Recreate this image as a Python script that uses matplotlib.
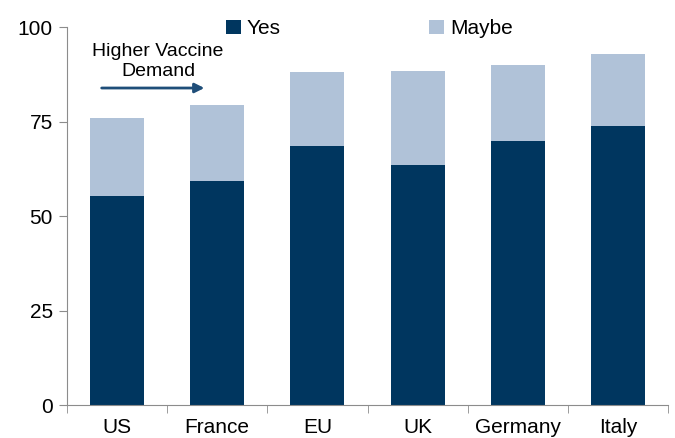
import matplotlib.pyplot as plt

plt.rcParams['font.family'] = ['Liberation Sans', 'DejaVu Sans']

paises = ['US', 'France', 'EU', 'UK', 'Germany', 'Italy']
sim = [55.4, 59.4, 68.6, 63.5, 69.8, 73.8]
total = [75.9, 79.3, 88.1, 88.4, 90.0, 92.9]
talvez = [t - s for t, s in zip(total, sim)]

cor_sim = '#00365F'
cor_talvez = '#B0C2D8'
cinza = '#8C8C8C'

fig, ax = plt.subplots(figsize=(6.75, 4.38), dpi=100)
fig.subplots_adjust(left=0.099, right=0.99, top=0.938, bottom=0.075)

x = list(range(len(paises)))
ax.bar(x, sim, width=0.54, color=cor_sim, label='Yes')
ax.bar(x, talvez, width=0.54, bottom=sim, color=cor_talvez, label='Maybe')

ax.set_xlim(-0.5, 5.5)
ax.set_ylim(0, 100)
ax.set_yticks([0, 25, 50, 75, 100])
ax.set_xticks(x)
ax.set_xticklabels(paises)
ax.set_xticks([i + 0.5 for i in range(-1, 6)], minor=True)
ax.tick_params(axis='x', which='major', length=0, pad=9, labelsize=15)
ax.tick_params(axis='x', which='minor', length=6, color=cinza, direction='out')
ax.tick_params(axis='y', length=6, color=cinza, labelsize=15, pad=4)

for lado in ['top', 'right']:
    ax.spines[lado].set_visible(False)
ax.spines['left'].set_color(cinza)
ax.spines['bottom'].set_color(cinza)

ax.legend(loc='upper center', bbox_to_anchor=(0.503, 1.07), ncol=2, frameon=False,
          fontsize=15, handlelength=0.7, handleheight=0.7, handletextpad=0.3,
          columnspacing=7.1)

ax.text(0.41, 90.9, 'Higher Vaccine\nDemand', ha='center', va='center', fontsize=14,
        linespacing=1.2)
ax.annotate('', xy=(0.9, 83.9), xytext=(-0.18, 83.9),
            arrowprops=dict(arrowstyle='-|>', color='#1F4E79', lw=2, mutation_scale=14))

plt.savefig('out.png')
